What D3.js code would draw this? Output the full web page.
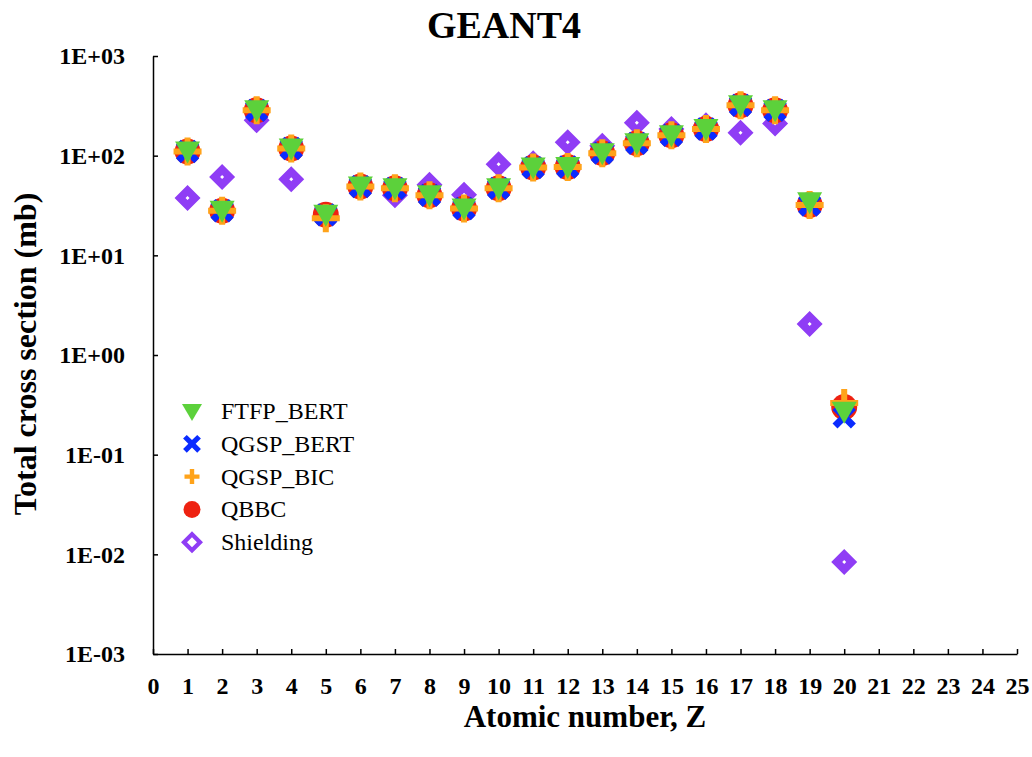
<!DOCTYPE html>
<html>
<head>
<meta charset="utf-8">
<script src="https://cdn.jsdelivr.net/npm/d3@7"></script>
<style>
  body { margin: 0; background: #fff; }
  .axis path, .axis line { stroke: #000; stroke-width: 1.5; }
  .axis text { font-family: "Liberation Serif", "Times New Roman", serif; font-size: 24px; font-weight: bold; fill: #000; }
</style>
</head>
<body>
<div id="chart"></div>
<script>
const W = 1032, H = 757;
const margin = { top: 56, right: 15, bottom: 103, left: 153 };
const width = W - margin.left - margin.right;
const height = H - margin.top - margin.bottom;
const serif = "'Liberation Serif', 'Times New Roman', serif";

// atomic number Z
const atomicZ = [1, 2, 3, 4, 5, 6, 7, 8, 9, 10, 11, 12, 13, 14, 15, 16, 17, 18, 19, 20];

// total cross sections (mb)
const ftfpBert  = [110, 28, 285, 118, 25.5, 49, 47, 40, 29.5, 47, 76, 77, 106, 133, 160, 185, 320, 285, 34, 0.27];
const qgspBert  = [110, 28, 285, 118, 25.5, 49, 47, 40, 29.5, 47, 76, 77, 106, 133, 160, 185, 320, 285, 32, 0.24];
const qgspBic   = [110, 28, 285, 118, 23.5, 49, 47, 40, 29.5, 47, 76, 77, 106, 133, 160, 185, 320, 285, 32, 0.33];
const qbbc      = [110, 28, 285, 118, 25.5, 49, 47, 40, 29.5, 47, 76, 77, 106, 133, 160, 185, 320, 285, 32, 0.30];
const shielding = [37.5, 61, 226, 58, 25, 49, 40, 51, 40.5, 82, 84, 136, 126, 214, 185, 202, 170, 210, 2.05, 0.0084];

const xTicks = d3.range(0, 26);
const yTicks = [1e-3, 1e-2, 1e-1, 1e0, 1e1, 1e2, 1e3];

const legendNames = ["FTFP_BERT", "QGSP_BERT", "QGSP_BIC", "QBBC", "Shielding"];

function crossPath(L, w) {
  return "M" + (-L) + "," + (-w) + "H" + (-w) + "V" + (-L) + "H" + w + "V" + (-w) +
         "H" + L + "V" + w + "H" + w + "V" + L + "H" + (-w) + "V" + w + "H" + (-L) + "Z";
}
function diamondPath(o, i) {
  return "M0," + (-o) + "L" + o + ",0L0," + o + "L" + (-o) + ",0Z" +
         "M0," + (-i) + "L" + (-i) + ",0L0," + i + "L" + i + ",0Z";
}
function triPath(hw, top, tip) {
  return "M" + (-hw) + "," + (-top) + "L" + hw + "," + (-top) + "L0," + tip + "Z";
}
function circlePath(r) {
  return "M" + (-r) + ",0A" + r + "," + r + " 0 1,0 " + r + ",0A" + r + "," + r + " 0 1,0 " + (-r) + ",0Z";
}

// draw order: bottom first
const series = [
  { name: "Shielding", values: shielding, color: "#8F3DF5", path: diamondPath(13, 2), lpath: diamondPath(11, 5), rot: 0 },
  { name: "QBBC", values: qbbc, color: "#EE2211", path: circlePath(13), lpath: circlePath(8.5), rot: 0 },
  { name: "QGSP_BERT", values: qgspBert, color: "#0A2BFF", path: crossPath(13, 3.5), lpath: crossPath(10, 2.6), rot: 45 },
  { name: "QGSP_BIC", values: qgspBic, color: "#FFA31A", path: crossPath(14, 3), lpath: crossPath(7.5, 2.2), rot: 0 },
  { name: "FTFP_BERT", values: ftfpBert, color: "#5CD13B", path: triPath(12.5, 10, 12), lpath: triPath(10, 7, 10), rot: 0 }
];

const x = d3.scaleLinear().domain([0, 25]).range([0, width]);
const y = d3.scaleLog().domain([1e-3, 1e3]).range([height, 0]);

const svg = d3.select("#chart")
  .append("svg")
  .attr("width", W)
  .attr("height", H)
  .attr("font-family", serif);

svg.append("text")
  .attr("x", 504)
  .attr("y", 38)
  .attr("text-anchor", "middle")
  .attr("font-family", serif)
  .style("font-size", "38px")
  .style("font-weight", "bold")
  .text("GEANT4");

const g = svg.append("g")
  .attr("transform", "translate(" + margin.left + "," + margin.top + ")");

const xAxis = d3.axisBottom(x)
  .tickValues(xTicks)
  .tickFormat(d3.format("d"))
  .tickSizeInner(-5)
  .tickSizeOuter(0)
  .tickPadding(23);

const yAxis = d3.axisLeft(y)
  .tickValues(yTicks)
  .tickFormat(function(d) {
    const e = Math.round(Math.log10(d));
    return "1E" + (e < 0 ? "-" : "+") + String(Math.abs(e)).padStart(2, "0");
  })
  .tickSizeInner(-5)
  .tickSizeOuter(0)
  .tickPadding(28);

g.append("g")
  .attr("class", "axis")
  .attr("transform", "translate(0," + height + ")")
  .call(xAxis);

g.append("g")
  .attr("class", "axis")
  .call(yAxis);

g.selectAll(".axis text").attr("font-family", serif);

// markers
series.forEach(function(s) {
  g.selectAll(null)
    .data(atomicZ.map(function(z, i) { return { z: z, v: s.values[i] }; }))
    .enter().append("path")
      .attr("d", s.path)
      .attr("fill", s.color)
      .attr("fill-rule", "evenodd")
      .attr("transform", function(d) {
        return "translate(" + x(d.z) + "," + y(d.v) + ") rotate(" + s.rot + ")";
      });
});

// axis titles
svg.append("text")
  .attr("transform", "translate(36," + 354 + ") rotate(-90)")
  .attr("text-anchor", "middle")
  .attr("font-family", serif)
  .style("font-size", "32px")
  .style("font-weight", "bold")
  .text("Total cross section (mb)");

svg.append("text")
  .attr("x", margin.left + width / 2)
  .attr("y", 727)
  .attr("text-anchor", "middle")
  .attr("font-family", serif)
  .style("font-size", "31px")
  .style("font-weight", "bold")
  .text("Atomic number, Z");

// legend
const legend = svg.append("g").attr("transform", "translate(192,411)");
legendNames.forEach(function(name, i) {
  const s = series.find(function(d) { return d.name === name; });
  const row = legend.append("g").attr("transform", "translate(0," + (i * 32.8) + ")");
  row.append("path")
    .attr("d", s.lpath)
    .attr("fill", s.color)
    .attr("fill-rule", "evenodd")
    .attr("transform", "rotate(" + s.rot + ")");
  row.append("text")
    .attr("x", 29)
    .attr("y", 8)
    .attr("font-family", serif)
    .attr("fill", "#000")
    .style("font-size", "24px")
    .text(name);
});
</script>
</body>
</html>
